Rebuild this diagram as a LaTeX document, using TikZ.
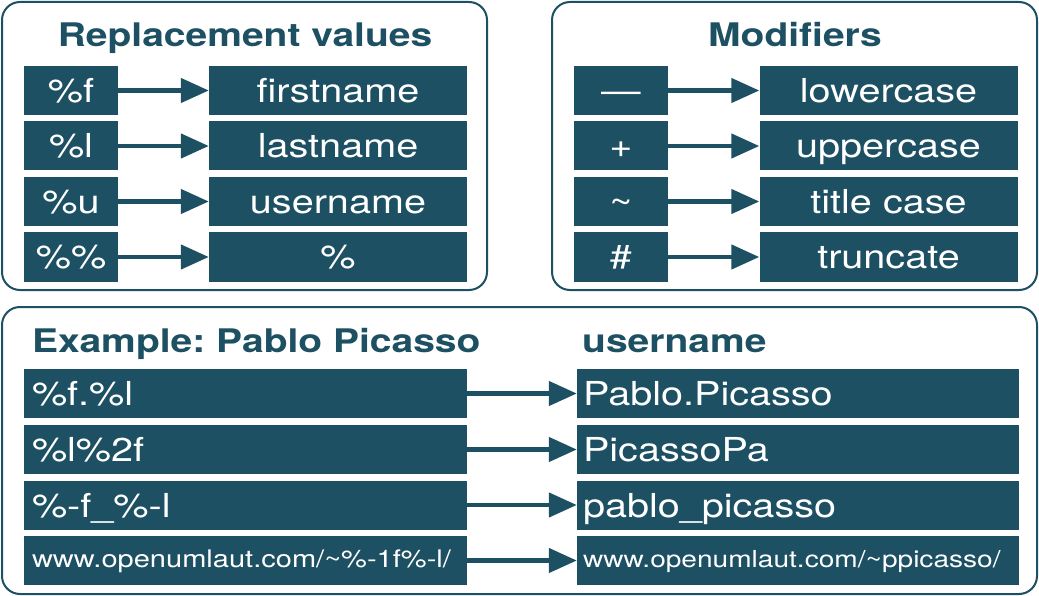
\documentclass[tikz,border=0pt]{standalone}
\usepackage{fontspec}
\setmainfont[FakeStretch=1.2]{TeX Gyre Heros}
\usetikzlibrary{arrows.meta}
\definecolor{umlautblue}{RGB}{29,80,98}
\frenchspacing

\begin{document}
\begin{tikzpicture}[x=1pt,y=-1pt]
        \tikzstyle{panel}=[draw=umlautblue,line width=2pt,rounded corners=18pt]
        \tikzstyle{paneltitle}=[text=umlautblue,inner sep=0pt,font=\fontsize{32.5}{36}\selectfont\bfseries]
        \tikzstyle{keybox}=[fill=umlautblue,text=white,inner sep=0pt,minimum width=94pt,minimum height=49pt,text height=26pt,text depth=2pt,font=\fontsize{33}{36}\selectfont]
        \tikzstyle{valuebox}=[keybox,minimum width=258pt]
        \tikzstyle{inbox}=[keybox,text width=427pt,align=left,inner xsep=8pt]
        \tikzstyle{outbox}=[keybox,text width=430pt,align=left,inner xsep=6pt]
        \tikzstyle{url}=[text height=17pt,text depth=4pt,font=\fontsize{24.2}{27}\selectfont]
        \tikzstyle{edge}=[draw=umlautblue,line width=4.5pt,-{Triangle[length=28pt,width=24pt]}]
        \useasboundingbox (0,0) rectangle (1039,596);
       \begin{scope}
         % replacement values
         \draw [panel] (2,2) rectangle (487,290);
         \node [paneltitle,anchor=base] (rtitle) at (245,47) {Replacement values};
         \node [keybox] (f) at (71,90.5) {\%f};
         \node [keybox] (l) at (71,146) {\%l};
         \node [keybox] (u) at (71,201.5) {\%u};
         \node [keybox] (pc) at (71,257) {\%\%};
         \node [valuebox] (first) at (338,90.5) {firstname};
         \node [valuebox] (last) at (338,146) {lastname};
         \node [valuebox] (user) at (338,201.5) {username};
         \node [valuebox] (pcval) at (338,257) {\%};
         \path[edge] (f) -- (first);
         \path[edge] (l) -- (last);
         \path[edge] (u) -- (user);
         \path[edge] (pc) -- (pcval);
        \end{scope}
       \begin{scope}
         % modifiers
         \draw [panel] (552,2) rectangle (1037,290);
         \node [paneltitle,anchor=base] (mtitle) at (795,47) {Modifiers};
         \node [keybox] (minus) at (621,90.5) {---};
         \node [keybox] (plus) at (621,146) {+};
         \node [keybox] (tilde) at (621,201.5) {\textasciitilde};
         \node [keybox] (hash) at (621,257) {\#};
         \node [valuebox] (lower) at (888.5,90.5) {lowercase};
         \node [valuebox] (upper) at (888.5,146) {uppercase};
         \node [valuebox] (titlec) at (888.5,201.5) {title case};
         \node [valuebox] (trunc) at (888.5,257) {truncate};
         \path[edge] (minus) -- (lower);
         \path[edge] (plus) -- (upper);
         \path[edge] (tilde) -- (titlec);
         \path[edge] (hash) -- (trunc);
        \end{scope}
       \begin{scope}
         % example
         \draw [panel] (2,307) rectangle (1037,594);
         \node [paneltitle,anchor=base west] (etitle) at (32,352) {Example: Pablo Picasso};
         \node [paneltitle,anchor=base west] (utitle) at (582,352) {username};
         \node [inbox] (ex1) at (245.5,393.5) {\%f.\%l};
         \node [inbox] (ex2) at (245.5,449.5) {\%l\%2f};
         \node [inbox] (ex3) at (245.5,505) {\%-f\_\%-l};
         \node [inbox,url] (ex4) at (245.5,560.5) {www.openumlaut.com/\textasciitilde\%-1f\%-l/};
         \node [outbox] (res1) at (798,393.5) {Pablo.Picasso};
         \node [outbox] (res2) at (798,449.5) {PicassoPa};
         \node [outbox] (res3) at (798,505) {pablo\_picasso};
         \node [outbox,url,font=\fontsize{23.4}{26}\selectfont] (res4) at (798,560.5) {www.openumlaut.com/\textasciitilde ppicasso/};
         \path[edge] (ex1) -- (res1);
         \path[edge] (ex2) -- (res2);
         \path[edge] (ex3) -- (res3);
         \path[edge] (ex4) -- (res4);
        \end{scope}
      \end{tikzpicture}
\end{document}
